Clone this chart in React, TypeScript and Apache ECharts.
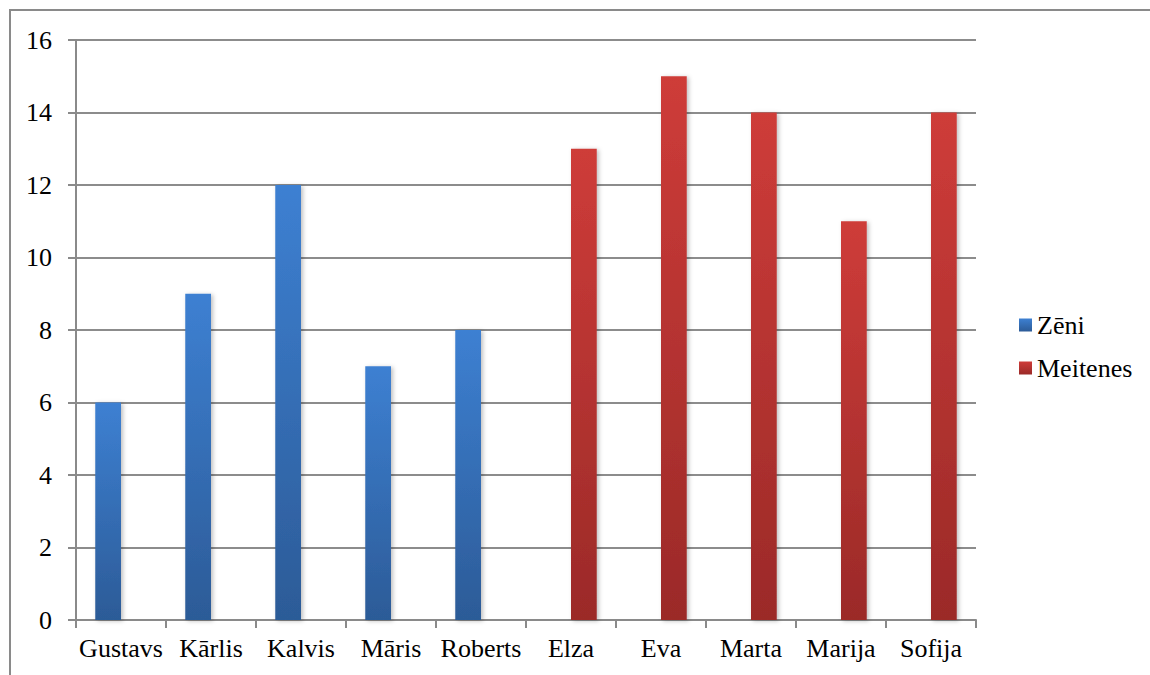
import React, { useEffect, useRef } from "react";
import * as echarts from "echarts";

const categories = ["Gustavs", "Kārlis", "Kalvis", "Māris", "Roberts", "Elza", "Eva", "Marta", "Marija", "Sofija"];
const boysValues = [6, 9, 12, 7, 8, null, null, null, null, null];
const girlsValues = [null, null, null, null, null, 13, 15, 14, 11, 14];
const seriesNames = ["Zēni", "Meitenes"];
const yTicks = [0, 2, 4, 6, 8, 10, 12, 14, 16];

const FONT = "Liberation Serif";

export default function App() {
  const ref = useRef<HTMLDivElement>(null);
  useEffect(() => {
    document.body.style.margin = "0";
    const chart = echarts.init(ref.current!, null, { renderer: "svg" });
    const blue = new echarts.graphic.LinearGradient(0, 0, 0, 1, [
      { offset: 0, color: "#3D80D2" },
      { offset: 1, color: "#2C5B97" },
    ]);
    const red = new echarts.graphic.LinearGradient(0, 0, 0, 1, [
      { offset: 0, color: "#CE3C39" },
      { offset: 1, color: "#9B2A28" },
    ]);
    const shadow = { shadowColor: "rgba(0,0,0,0.25)", shadowBlur: 4, shadowOffsetX: 2, shadowOffsetY: 1 };
    chart.setOption({
      animation: false,
      backgroundColor: "#ffffff",
      textStyle: { fontFamily: FONT },
      graphic: [
        {
          type: "rect",
          shape: { x: 10, y: 10, width: 1200, height: 720 },
          style: { fill: "none", stroke: "#8a8a8a", lineWidth: 2 },
          silent: true,
          z: -10,
        },
      ],
      grid: { left: 76, top: 40, width: 900, height: 580, containLabel: false },
      legend: {
        orient: "vertical",
        left: 1014,
        top: 307,
        itemWidth: 13,
        itemHeight: 13,
        itemGap: 17,
        textStyle: { fontFamily: FONT, fontSize: 26, color: "#000" },
        data: [
          { name: seriesNames[0], icon: "rect", itemStyle: { color: blue } },
          { name: seriesNames[1], icon: "rect", itemStyle: { color: red } },
        ],
      },
      xAxis: {
        type: "category",
        data: categories,
        axisLine: { lineStyle: { color: "#8a8a8a", width: 2 } },
        axisTick: { show: true, length: 8, lineStyle: { color: "#8a8a8a", width: 2 } },
        axisLabel: { fontFamily: FONT, fontSize: 26, color: "#000", margin: 15, interval: 0 },
      },
      yAxis: {
        type: "value",
        min: yTicks[0],
        max: yTicks[yTicks.length - 1],
        interval: 2,
        axisLine: { show: true, lineStyle: { color: "#8a8a8a", width: 2 } },
        axisTick: { show: true, length: 8, lineStyle: { color: "#8a8a8a", width: 2 } },
        splitLine: { lineStyle: { color: "#8c8c8c", width: 2 } },
        axisLabel: { fontFamily: FONT, fontSize: 26, color: "#000", margin: 24 },
      },
      series: [
        {
          name: seriesNames[0],
          type: "bar",
          data: boysValues,
          barGap: "0%",
          barCategoryGap: "42.8%",
          itemStyle: { color: blue, ...shadow },
        },
        {
          name: seriesNames[1],
          type: "bar",
          data: girlsValues,
          barGap: "0%",
          barCategoryGap: "42.8%",
          itemStyle: { color: red, ...shadow },
        },
      ],
    });
    return () => chart.dispose();
  }, []);
  return <div ref={ref} style={{ width: 1150, height: 675 }} />;
}
